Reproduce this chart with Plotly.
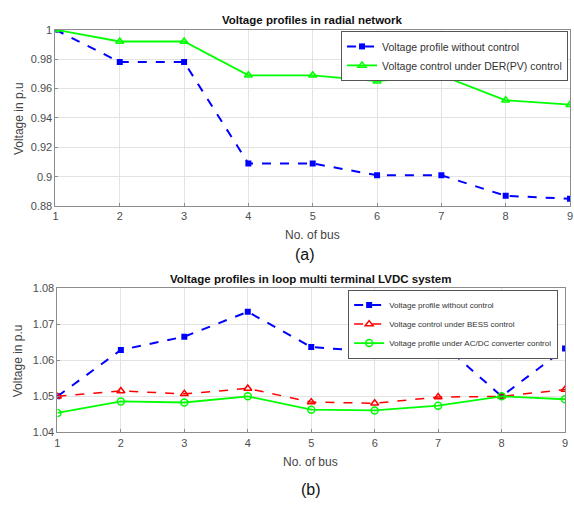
import plotly.graph_objects as go

bus = [1, 2, 3, 4, 5, 6, 7, 8, 9]

# (a) radial network
radial_no_control = [1.0, 0.978, 0.978, 0.909, 0.909, 0.901, 0.901, 0.887, 0.885]
radial_pv_control = [1.0, 0.992, 0.992, 0.969, 0.969, 0.965, 0.969, 0.952, 0.949]

# (b) loop multi terminal LVDC
loop_no_control = [1.0500, 1.0629, 1.0666, 1.0735, 1.0637, 1.0624, 1.0656, 1.0500, 1.0633]
loop_bess_control = [1.0500, 1.0515, 1.0507, 1.0522, 1.0484, 1.0481, 1.0498, 1.0500, 1.0519]
loop_acdc_control = [1.0454, 1.0486, 1.0483, 1.0500, 1.0463, 1.0461, 1.0474, 1.0500, 1.0492]

ticks_a = [0.88, 0.9, 0.92, 0.94, 0.96, 0.98, 1.0]
tick_labels_a = ["0.88", "0.9", "0.92", "0.94", "0.96", "0.98", "1"]
ticks_b = [1.04, 1.05, 1.06, 1.07, 1.08]
tick_labels_b = ["1.04", "1.05", "1.06", "1.07", "1.08"]

W, H = 574, 506
FONT = "Liberation Sans, Arial, sans-serif"
BLUE = "#0000ff"
GREEN = "#00ff00"
RED = "#ff0000"

fig = go.Figure()

fig.add_trace(go.Scatter(
    x=bus, y=radial_no_control, mode="lines+markers",
    name="Voltage profile without control",
    line=dict(color=BLUE, width=2, dash="dash"),
    marker=dict(symbol="square", size=6, color=BLUE),
    xaxis="x", yaxis="y", legend="legend"))
fig.add_trace(go.Scatter(
    x=bus, y=radial_pv_control, mode="lines+markers",
    name="Voltage control under DER(PV) control",
    line=dict(color=GREEN, width=1.8),
    marker=dict(symbol="triangle-up-open", size=7, color=GREEN, line=dict(width=1.5)),
    xaxis="x", yaxis="y", legend="legend"))

fig.add_trace(go.Scatter(
    x=bus, y=loop_no_control, mode="lines+markers",
    name="Voltage profile without control",
    line=dict(color=BLUE, width=2, dash="dash"),
    marker=dict(symbol="square", size=6, color=BLUE),
    xaxis="x2", yaxis="y2", legend="legend2"))
fig.add_trace(go.Scatter(
    x=bus, y=loop_bess_control, mode="lines+markers",
    name="Voltage control under BESS control",
    line=dict(color=RED, width=1.5, dash="dash"),
    marker=dict(symbol="triangle-up-open", size=7, color=RED, line=dict(width=1.5)),
    xaxis="x2", yaxis="y2", legend="legend2"))
fig.add_trace(go.Scatter(
    x=bus, y=loop_acdc_control, mode="lines+markers",
    name="Voltage profile under AC/DC converter control",
    line=dict(color=GREEN, width=1.8),
    marker=dict(symbol="circle-open", size=7, color=GREEN, line=dict(width=1.5)),
    xaxis="x2", yaxis="y2", legend="legend2"))

axis_common = dict(
    showgrid=True, gridcolor="#e3e3e3", gridwidth=1,
    showline=True, linecolor="#8c8c8c", linewidth=1, mirror=True,
    ticks="inside", ticklen=3, tickcolor="#8c8c8c",
    tickfont=dict(family=FONT, size=11, color="#4d4d4d"),
    zeroline=False,
)

fig.update_layout(
    width=W, height=H,
    margin=dict(l=0, r=0, t=0, b=0),
    paper_bgcolor="white", plot_bgcolor="white",
    font=dict(family=FONT, color="#333"),
    xaxis=dict(domain=[53 / W, 573 / W], range=[1, 9], tickvals=bus, anchor="y",
               **axis_common),
    yaxis=dict(domain=[1 - 205 / H, 1 - 24.3 / H], range=[0.88, 1.0],
               tickvals=ticks_a, ticktext=tick_labels_a, anchor="x", **axis_common),
    xaxis2=dict(domain=[55 / W, 568 / W], range=[1, 9], tickvals=bus, anchor="y2",
                **axis_common),
    yaxis2=dict(domain=[1 - 436.7 / H, 1 - 289.3 / H], range=[1.04, 1.08],
                tickvals=ticks_b, ticktext=tick_labels_b, anchor="x2", **axis_common),
    legend=dict(x=571 / W, y=1 - 25.5 / H, xanchor="right", yanchor="top",
                bgcolor="white", bordercolor="#555", borderwidth=1,
                font=dict(family=FONT, size=10.5, color="#333"),
                tracegroupgap=0, itemwidth=30),
    legend2=dict(x=561 / W, y=1 - 290.5 / H, xanchor="right", yanchor="top",
                 bgcolor="white", bordercolor="#555", borderwidth=1,
                 font=dict(family=FONT, size=8, color="#333"),
                 tracegroupgap=0, itemwidth=30),
    showlegend=True,
)

ann = []
def txt(x, y, s, size, color="#333", angle=0, family=FONT):
    ann.append(dict(x=x / W, y=1 - y / H, xref="paper", yref="paper", text=s,
                    showarrow=False, xanchor="center", yanchor="middle",
                    textangle=angle,
                    font=dict(family=family, size=size, color=color)))

txt(313, 14, "<b>Voltage profiles in radial network</b>", 11.5, color="#111")
txt(311, 280, "<b>Voltage profiles in loop multi terminal LVDC system</b>", 11.5, color="#111")
txt(313, 235, "No. of bus", 12, color="#444")
txt(311, 467, "No. of bus", 12, color="#444")
txt(16, 115, "Voltage in p.u", 12, color="#444", angle=-90)
txt(16, 363, "Voltage in p.u", 12, color="#444", angle=-90)
txt(305, 255, "(a)", 16, color="#111", family="Liberation Sans, Arial")
txt(311, 495, "(b)", 16, color="#111", family="Liberation Sans, Arial")
fig.update_layout(annotations=ann)

fig.write_html(
    "out.html",
    config={"displayModeBar": False},
    post_script="document.body.style.margin='0';document.body.style.overflow='hidden';",
)
